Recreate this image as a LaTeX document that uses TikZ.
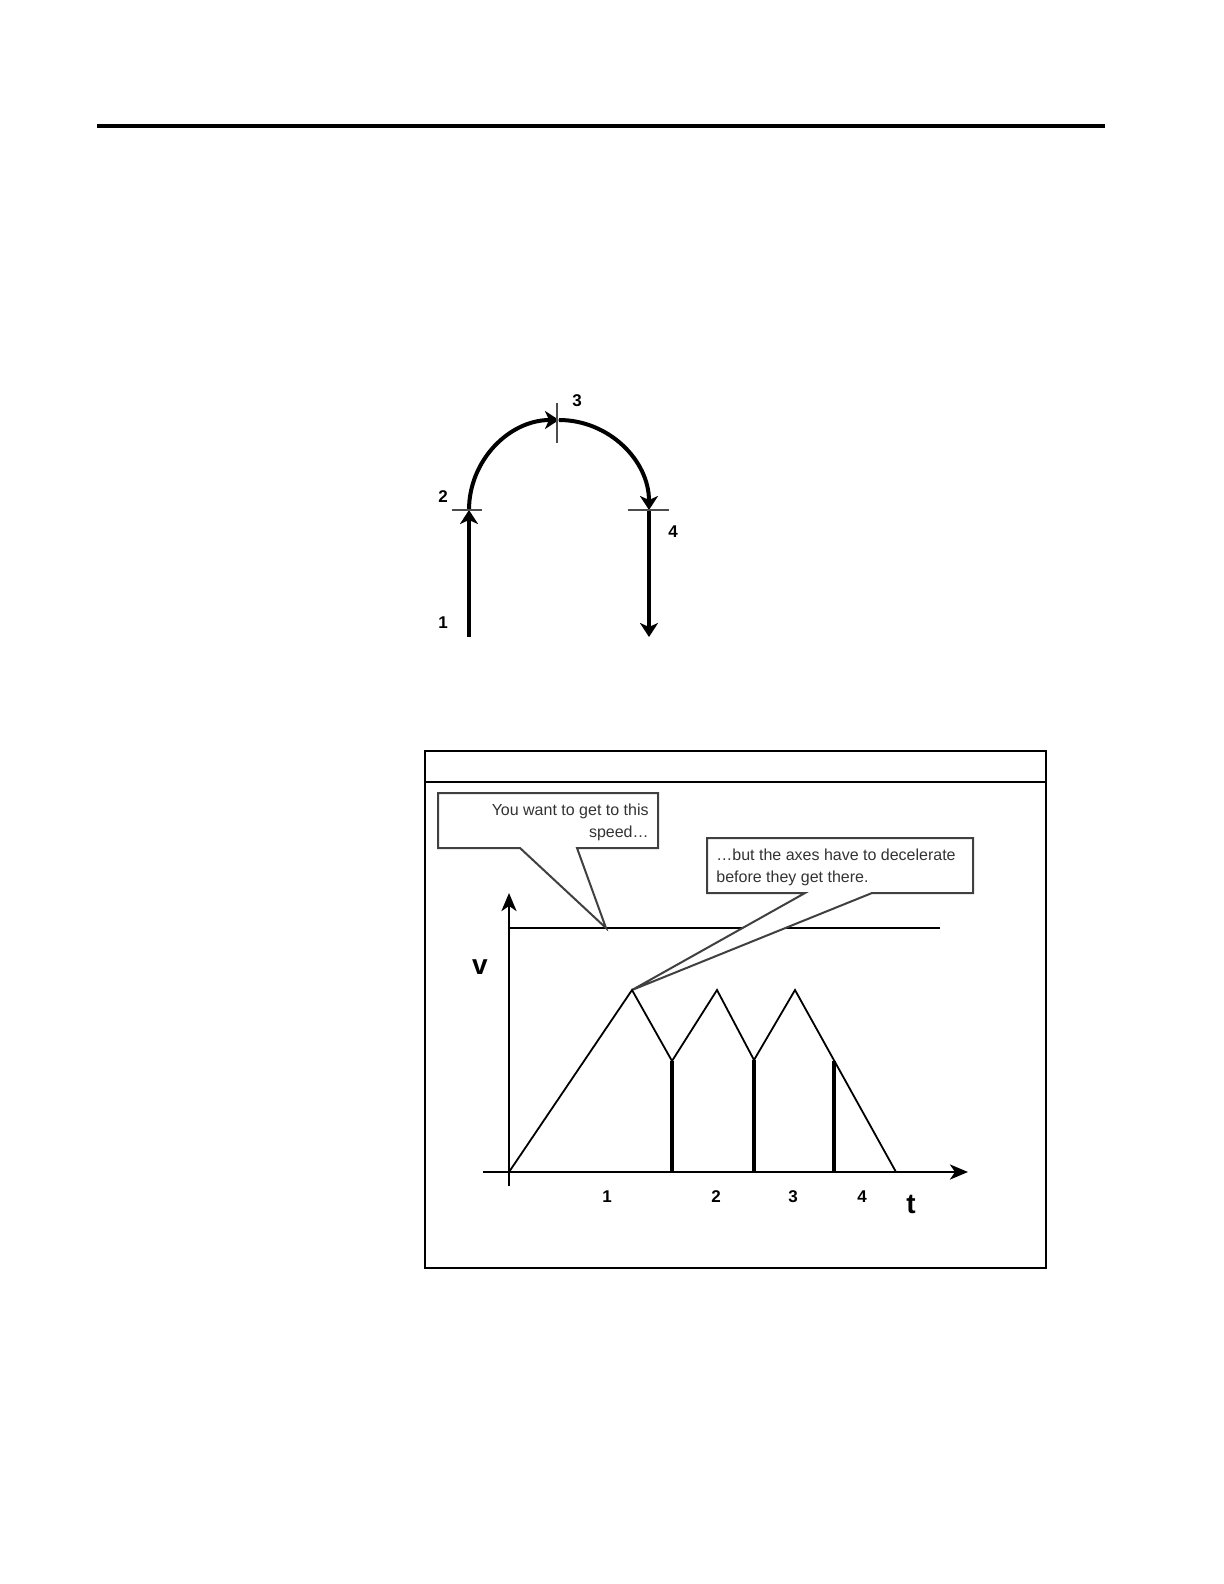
\documentclass[tikz,border=0pt]{standalone}
\usepackage{fontspec}
\setmainfont{Liberation Sans}
\usetikzlibrary{positioning}
\usetikzlibrary{arrows.meta}

\begin{document}
\begin{tikzpicture}[x=0.5pt, y=-0.5pt,
			pathline/.style={
				line width=2pt,
				-{Stealth[length=7pt, width=9pt, inset=2pt]}
			},
			tickmark/.style={
				line width=0.6pt,
				draw=black!70
			},
			num/.style={
				font=\fontsize{8.5}{10}\selectfont\bfseries,
				inner sep=0pt
			},
			axis/.style={
				line width=1.4pt,
				-{Stealth[length=9pt, width=7.5pt, inset=2.5pt]}
			},
			profile/.style={line width=0.9pt},
			stopline/.style={line width=1.7pt},
			callout/.style={
				draw=black!75,
				line width=1pt,
				fill=white
			},
			note/.style={
				font=\fontsize{8}{11}\selectfont,
				text=black!80,
				inner sep=0pt
			},
			big/.style={
				font=\fontsize{14}{14}\selectfont\bfseries,
				inner sep=0pt
			}
			]
			\useasboundingbox (0,0) rectangle (1224,1584);
			
			% Regla superior
			\coordinate (ruleL) at (97,126);
			\coordinate (ruleR) at (1105,126);
			\draw[line width=2pt] (ruleL) -- (ruleR);
			
			% Trayectoria: recta, semicirculo, recta
			\coordinate (a1) at (469,637);
			\coordinate (a2) at (469,510);
			\coordinate (a3) at (559,420);
			\coordinate (a4) at (649,510);
			\coordinate (a5) at (649,637);
			\draw[pathline] (a1) -- (a2);
			\draw[pathline] (a2) arc[start angle=180, end angle=90, radius=45pt];
			\draw[pathline] (a3) arc[start angle=90, end angle=0, radius=45pt];
			\draw[pathline] (a4) -- (a5);
			
			% Marcas entre tramos
			\draw[tickmark] (a2) ++(-17,0) -- ++(30,0);
			\draw[tickmark] (a3) ++(-2,-17) -- ++(0,40);
			\draw[tickmark] (a4) ++(-21,0) -- ++(41,0);
			
			\node[num] (l1) at (443,623) {1};
			\node[num] (l2) at (443,497) {2};
			\node[num] (l3) at (577,401) {3};
			\node[num] (l4) at (673,532) {4};
			
			% Marco de la figura
			\draw[line width=0.7pt] (425,751) rectangle (1046,1268);
			\draw[line width=0.7pt] (425,782) -- (1046,782);
			
			% Puntos del perfil de velocidad
			\coordinate (o) at (509,1172);
			\coordinate (vtop) at (509,893);
			\coordinate (vbot) at (509,1186);
			\coordinate (tl) at (483,1172);
			\coordinate (tr) at (968,1172);
			\coordinate (sp0) at (509,928);
			\coordinate (sp1) at (940,928);
			\coordinate (pk1) at (632,990);
			\coordinate (vl1) at (672,1061);
			\coordinate (pk2) at (717,990);
			\coordinate (vl2) at (754,1060);
			\coordinate (pk3) at (795,990);
			\coordinate (vl3) at (834,1061);
			\coordinate (tend) at (896,1172);
			\coordinate (b1) at (672,1172);
			\coordinate (b2) at (754,1172);
			\coordinate (b3) at (834,1172);
			
			% Velocidad deseada
			\draw[line width=1.2pt] (sp0) -- (sp1);
			
			% Globos de texto
			\coordinate (tip1) at (606,928);
			\draw[callout] (438,793) -- (658,793) -- (658,848) -- (577,848)
				-- (tip1) -- (520,848) -- (438,848) -- cycle;
			\node[note, align=right, anchor=north east] (want) at (649,803)
				{You want to get to this\\speed…};
			
			\draw[callout] (707,838) -- (973,838) -- (973,893) -- (872,893)
				-- (pk1) -- (805,893) -- (707,893) -- cycle;
			\node[note, align=left, anchor=north west] (decel) at (716,848)
				{…but the axes have to decelerate\\before they get there.};
			
			% Ejes
			\draw[axis] (vbot) -- (vtop);
			\draw[axis] (tl) -- (tr);
			
			% Perfil
			\draw[profile] (o) -- (pk1) -- (vl1) -- (pk2) -- (vl2) -- (pk3) -- (tend);
			\draw[stopline] (vl1) -- (b1);
			\draw[stopline] (vl2) -- (b2);
			\draw[stopline] (vl3) -- (b3);
			
			\node[big] (vlab) at (480,967) {v};
			\node[big] (tlab) at (911,1204) {t};
			\node[num] (s1) at (607,1197) {1};
			\node[num] (s2) at (716,1197) {2};
			\node[num] (s3) at (793,1197) {3};
			\node[num] (s4) at (862,1197) {4};
			
		\end{tikzpicture}
\end{document}
